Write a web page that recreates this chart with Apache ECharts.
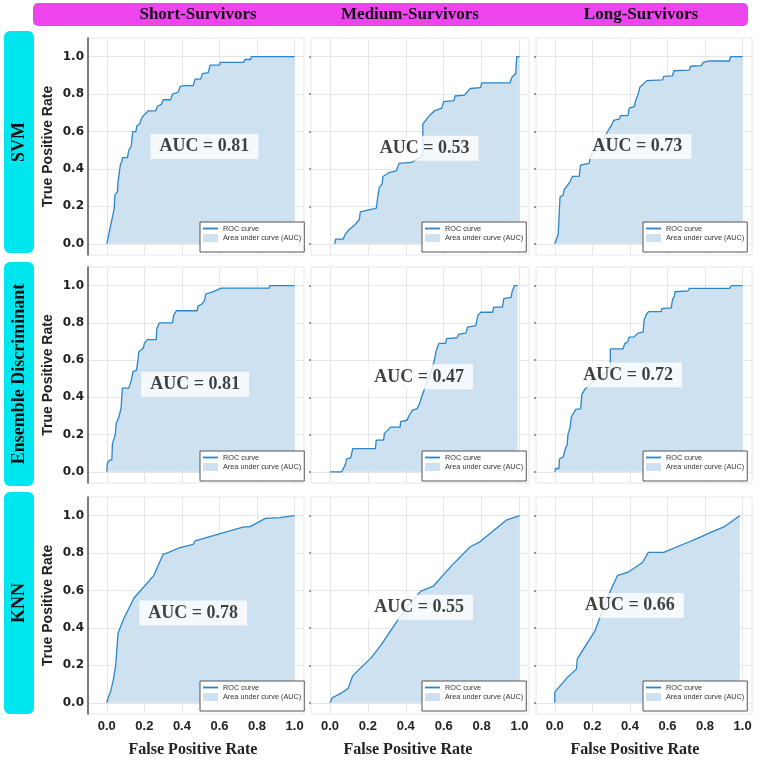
<!DOCTYPE html>
<html>
<head>
<meta charset="utf-8">
<script src="https://cdn.jsdelivr.net/npm/echarts@6/dist/echarts.min.js"></script>
<style>
html, body { margin: 0; padding: 0; background: #fff; }
#chart { width: 765px; height: 765px; }
</style>
</head>
<body>
<div id="chart"></div>
<script>
// rows / columns of the figure
var methods = ['SVM', 'Ensemble Discriminant', 'KNN'];
var groups = ['Short-Survivors', 'Medium-Survivors', 'Long-Survivors'];
var tickValues = [0, 0.2, 0.4, 0.6, 0.8, 1.0];
var aucValues = [0.81, 0.53, 0.73, 0.81, 0.47, 0.72, 0.78, 0.55, 0.66];

// ROC curves, [FPR, TPR]
var svmShort = [[0,0],[0.04,0.19],[0.043,0.26],[0.05,0.27],[0.057,0.28],[0.06,0.33],[0.07,0.34],[0.072,0.42],[0.08,0.44],[0.085,0.46],[0.11,0.46],[0.117,0.50],[0.13,0.52],[0.138,0.60],[0.155,0.60],[0.16,0.63],[0.175,0.64],[0.185,0.67],[0.20,0.69],[0.22,0.71],[0.26,0.71],[0.27,0.735],[0.29,0.745],[0.30,0.77],[0.34,0.77],[0.35,0.80],[0.38,0.81],[0.39,0.84],[0.41,0.845],[0.46,0.845],[0.47,0.88],[0.50,0.88],[0.51,0.91],[0.54,0.915],[0.55,0.955],[0.60,0.955],[0.605,0.97],[0.73,0.97],[0.735,0.985],[0.765,0.985],[0.77,1.0],[1.0,1.0]];
var svmMedium = [[0.025,0],[0.03,0.025],[0.07,0.025],[0.08,0.05],[0.10,0.075],[0.13,0.10],[0.155,0.13],[0.16,0.17],[0.20,0.18],[0.245,0.19],[0.25,0.235],[0.26,0.30],[0.275,0.32],[0.28,0.36],[0.31,0.38],[0.35,0.39],[0.365,0.43],[0.43,0.435],[0.44,0.44],[0.49,0.47],[0.49,0.64],[0.50,0.645],[0.52,0.68],[0.55,0.71],[0.59,0.725],[0.60,0.76],[0.655,0.765],[0.66,0.79],[0.71,0.795],[0.74,0.83],[0.795,0.835],[0.80,0.86],[0.95,0.86],[0.96,0.89],[0.98,0.91],[0.985,1.0],[1.0,1.0]];
var svmLong = [[0,0],[0.018,0.05],[0.025,0.06],[0.028,0.25],[0.044,0.26],[0.05,0.29],[0.062,0.305],[0.08,0.33],[0.094,0.36],[0.13,0.36],[0.137,0.42],[0.183,0.43],[0.19,0.47],[0.23,0.53],[0.27,0.58],[0.29,0.615],[0.30,0.63],[0.314,0.66],[0.345,0.668],[0.35,0.685],[0.39,0.685],[0.396,0.725],[0.425,0.735],[0.43,0.765],[0.444,0.80],[0.453,0.837],[0.49,0.872],[0.574,0.876],[0.58,0.895],[0.627,0.898],[0.634,0.925],[0.716,0.928],[0.723,0.949],[0.78,0.952],[0.79,0.97],[0.817,0.977],[0.93,0.977],[0.936,1.0],[1.0,1.0]];
var edShort = [[0,0],[0.003,0.045],[0.014,0.063],[0.027,0.063],[0.03,0.15],[0.045,0.20],[0.05,0.26],[0.063,0.29],[0.076,0.34],[0.083,0.45],[0.117,0.45],[0.13,0.49],[0.14,0.54],[0.158,0.545],[0.166,0.60],[0.17,0.645],[0.195,0.665],[0.20,0.69],[0.216,0.71],[0.263,0.71],[0.267,0.77],[0.28,0.80],[0.35,0.80],[0.356,0.84],[0.37,0.865],[0.48,0.865],[0.486,0.89],[0.505,0.90],[0.52,0.92],[0.527,0.955],[0.56,0.965],[0.57,0.975],[0.61,0.987],[0.865,0.987],[0.868,1.0],[1.0,1.0]];
var edMedium = [[0,0],[0.062,0],[0.08,0.036],[0.088,0.07],[0.11,0.075],[0.12,0.125],[0.24,0.125],[0.244,0.17],[0.283,0.17],[0.287,0.205],[0.32,0.24],[0.37,0.24],[0.373,0.27],[0.407,0.277],[0.416,0.30],[0.434,0.33],[0.46,0.34],[0.47,0.36],[0.478,0.384],[0.50,0.45],[0.53,0.53],[0.55,0.595],[0.56,0.65],[0.575,0.69],[0.61,0.69],[0.615,0.715],[0.67,0.72],[0.68,0.74],[0.717,0.745],[0.726,0.777],[0.77,0.785],[0.78,0.84],[0.796,0.857],[0.858,0.857],[0.864,0.884],[0.91,0.884],[0.917,0.93],[0.956,0.937],[0.96,0.964],[0.973,1.0],[0.99,1.0]];
var edLong = [[0,0],[0.004,0.018],[0.022,0.018],[0.025,0.069],[0.045,0.08],[0.05,0.09],[0.057,0.127],[0.066,0.145],[0.07,0.20],[0.081,0.235],[0.088,0.293],[0.10,0.316],[0.111,0.335],[0.138,0.338],[0.144,0.416],[0.16,0.443],[0.17,0.45],[0.22,0.50],[0.295,0.55],[0.296,0.66],[0.363,0.66],[0.372,0.687],[0.39,0.70],[0.395,0.723],[0.422,0.725],[0.443,0.745],[0.47,0.75],[0.476,0.817],[0.488,0.846],[0.50,0.86],[0.566,0.86],[0.57,0.877],[0.62,0.88],[0.627,0.926],[0.637,0.944],[0.64,0.967],[0.71,0.972],[0.716,0.985],[0.93,0.985],[0.94,1.0],[1.0,1.0]];
var knnShort = [[0,0],[0.007,0.027],[0.021,0.062],[0.035,0.124],[0.048,0.204],[0.06,0.373],[0.092,0.453],[0.145,0.56],[0.198,0.62],[0.25,0.68],[0.30,0.794],[0.32,0.80],[0.39,0.83],[0.46,0.847],[0.47,0.865],[0.59,0.90],[0.73,0.94],[0.76,0.94],[0.845,0.986],[0.92,0.99],[1.0,1.0]];
var knnMedium = [[0,0],[0.012,0.027],[0.057,0.05],[0.096,0.077],[0.12,0.144],[0.155,0.18],[0.217,0.24],[0.27,0.31],[0.34,0.415],[0.41,0.52],[0.48,0.597],[0.546,0.624],[0.644,0.736],[0.74,0.834],[0.786,0.857],[0.93,0.976],[1.0,1.0]];
var knnLong = [[0,0],[0,0.057],[0.06,0.128],[0.115,0.18],[0.12,0.235],[0.17,0.315],[0.215,0.386],[0.237,0.448],[0.28,0.564],[0.334,0.68],[0.394,0.70],[0.467,0.75],[0.498,0.804],[0.58,0.804],[0.69,0.85],[0.763,0.88],[0.827,0.91],[0.90,0.94],[0.985,1.0]];

var curves = [svmShort, svmMedium, svmLong, edShort, edMedium, edLong, knnShort, knnMedium, knnLong];

// layout (pixels), kept apart from the data
var colLeft = [88, 311, 536];
var colWidth = [216, 218, 216];
var rowTop = [38, 267, 497];
var rowHeight = [217, 216, 217];
var legendLeft = [200, 422, 643];
var legendTop = [222, 451, 681];
var labelAt = [[0.52,0.52],[0.50,0.51],[0.44,0.52],[0.47,0.47],[0.47,0.51],[0.39,0.52],[0.46,0.48],[0.47,0.51],[0.40,0.52]];
var headerX = [198, 410, 641];
var sideBar = [[31, 253], [262, 486], [492, 714]];
var fprTitleX = [193, 408, 635];

var lineColor = '#2a86c8';
var fillColor = '#cde1f1';
var gridColor = '#e6e6e6';

function fmt(v) { return v.toFixed(1); }

var grids = [], xAxes = [], yAxes = [], series = [], legends = [], graphics = [];

for (var r = 0; r < 3; r++) {
    for (var c = 0; c < 3; c++) {
        var i = r * 3 + c;
        grids.push({
            left: colLeft[c], top: rowTop[r], width: colWidth[c], height: rowHeight[r],
            show: true, borderColor: gridColor, borderWidth: 1
        });
        xAxes.push({
            gridIndex: i, type: 'value', min: -0.1, max: 1.05,
            axisLine: {show: false, onZero: false},
            axisTick: {show: false, customValues: tickValues},
            splitLine: {show: true, lineStyle: {color: gridColor, width: 1}},
            axisLabel: {
                show: r === 2, customValues: tickValues, formatter: fmt, margin: 6,
                fontFamily: 'Liberation Sans', fontWeight: 'bold', fontSize: 13, color: '#222'
            }
        });
        yAxes.push({
            gridIndex: i, type: 'value', min: -0.06, max: 1.1,
            axisLine: {show: c === 0, onZero: false, lineStyle: {color: '#555', width: 1.5}},
            axisTick: {show: c > 0, length: 2, customValues: tickValues, lineStyle: {color: '#777', width: 1.5}},
            splitLine: {show: true, lineStyle: {color: gridColor, width: 1}},
            axisLabel: {
                show: c === 0, customValues: tickValues, formatter: fmt, margin: 4,
                fontFamily: 'DejaVu Sans', fontWeight: 'bold', fontSize: 12, color: '#222'
            },
            name: c === 0 ? 'True Positive Rate' : '',
            nameLocation: 'middle', nameGap: 33,
            nameTextStyle: {fontFamily: 'Liberation Sans', fontWeight: 'bold', fontSize: 14, color: '#222'}
        });
        series.push({
            type: 'line', name: 'Area under curve (AUC)', xAxisIndex: i, yAxisIndex: i,
            data: curves[i], symbol: 'none', color: fillColor,
            lineStyle: {width: 0}, areaStyle: {color: fillColor, opacity: 1}, z: 1, silent: true
        });
        series.push({
            type: 'line', name: 'ROC curve', xAxisIndex: i, yAxisIndex: i,
            data: curves[i], symbol: 'none', color: lineColor,
            lineStyle: {width: 1.3, color: lineColor}, z: 2
        });
        series.push({
            type: 'scatter', xAxisIndex: i, yAxisIndex: i, data: [labelAt[i]],
            symbolSize: 0, z: 5, silent: true,
            label: {
                show: true, position: 'inside', formatter: 'AUC = ' + aucValues[i].toFixed(2),
                fontFamily: 'Liberation Serif', fontWeight: 'bold', fontSize: 18, color: '#111',
                backgroundColor: '#fff', padding: [4, 9, 3, 9]
            }
        });
        legends.push({
            left: legendLeft[c], top: legendTop[r], orient: 'vertical',
            padding: [3, 3, 10, 3], itemGap: 2, itemWidth: 15, itemHeight: 8,
            borderColor: '#555', borderWidth: 1, backgroundColor: '#fff',
            selectedMode: false,
            textStyle: {fontFamily: 'Liberation Sans', fontSize: 7.3, color: '#333'},
            data: [
                {name: 'ROC curve', icon: 'path://M0,0H20V2.4H0Z'},
                {name: 'Area under curve (AUC)', icon: 'rect'}
            ]
        });
    }
}

// header band
graphics.push({type: 'rect', shape: {x: 33, y: 3, width: 715, height: 23, r: 5}, style: {fill: '#ee44ee'}});
groups.forEach(function (g, c) {
    graphics.push({
        type: 'text', x: headerX[c], y: 15,
        style: {text: g, fill: '#111', font: 'bold 17px "Liberation Serif"', align: 'center', verticalAlign: 'middle'}
    });
});
// side bands
methods.forEach(function (m, r) {
    graphics.push({
        type: 'rect', shape: {x: 4, y: sideBar[r][0], width: 30, height: sideBar[r][1] - sideBar[r][0], r: 6},
        style: {fill: '#00e6ef'}
    });
    graphics.push({
        type: 'text', x: 19, y: (sideBar[r][0] + sideBar[r][1]) / 2, rotation: Math.PI / 2,
        style: {text: m, fill: '#111', font: 'bold 18px "Liberation Serif"', align: 'center', verticalAlign: 'middle'}
    });
});
// x titles
fprTitleX.forEach(function (x) {
    graphics.push({
        type: 'text', x: x, y: 750,
        style: {text: 'False Positive Rate', fill: '#222', font: 'bold 16px "Liberation Serif"', align: 'center', verticalAlign: 'middle'}
    });
});

var chart = echarts.init(document.getElementById('chart'));
chart.setOption({
    animation: false,
    backgroundColor: '#fff',
    grid: grids,
    xAxis: xAxes,
    yAxis: yAxes,
    legend: legends,
    series: series,
    graphic: graphics
});
</script>
</body>
</html>
